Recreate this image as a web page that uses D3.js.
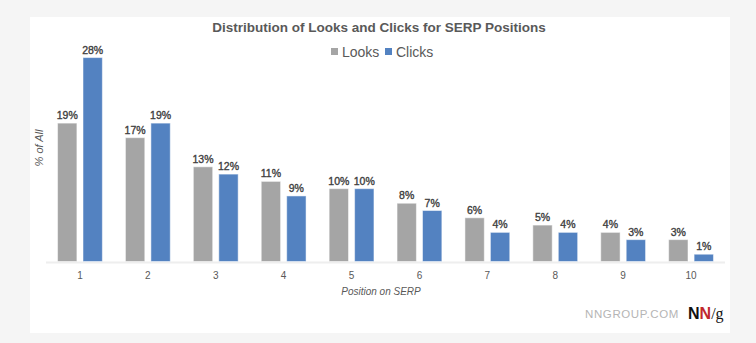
<!DOCTYPE html>
<html>
  <head>
    <meta charset="UTF-8">
    <title>Distribution of Looks and Clicks for SERP Positions</title>
    <style>
      body { margin: 0; background: #f5f5f5; }
      svg { display: block; font-family: "Helvetica Neue", Helvetica, "Liberation Sans", Arial, sans-serif; }
    </style>
  </head>
  <body>
    <svg></svg>

    <script src="https://d3js.org/d3.v7.min.js"></script>
    <script>

// SERP positions and the share of looks / clicks each one got (percent)
var positions = ["1", "2", "3", "4", "5", "6", "7", "8", "9", "10"];
var series = ["Looks", "Clicks"];
var looks  = [19, 17, 13, 11, 10, 8, 6, 5, 4, 3];
var clicks = [28, 19, 12, 9, 10, 7, 4, 4, 3, 1];
var colors = ["#a5a5a5", "#5382c1"];

var config = {
  "width": 756,
  "height": 343,
  "panel": {"x": 30, "y": 17, "w": 700, "h": 316},
  "plot": {"left": 46, "right": 725, "top": 43, "bottom": 261.5}
};

var svg = d3.select("svg")
  .attr("width", config.width)
  .attr("height", config.height);

// white card on the grey page
svg.append("rect")
  .attr("x", config.panel.x)
  .attr("y", config.panel.y)
  .attr("width", config.panel.w)
  .attr("height", config.panel.h)
  .attr("fill", "#ffffff");

var x = d3.scaleBand()
  .domain(positions)
  .range([config.plot.left, config.plot.right])
  .paddingInner(0.34)
  .paddingOuter(0.17);

var xInner = d3.scaleBand()
  .domain(series)
  .range([0, x.bandwidth()])
  .paddingInner(0.24);

var y = d3.scaleLinear()
  .domain([0, 30])
  .range([config.plot.bottom, config.plot.top]);

var color = d3.scaleOrdinal().domain(series).range(colors);

var rows = positions.map(function(p, i){
  return {"position": p, "values": [
    {"key": "Looks", "value": looks[i]},
    {"key": "Clicks", "value": clicks[i]}
  ]};
});

// baseline
svg.append("line")
  .attr("x1", config.plot.left)
  .attr("x2", config.plot.right)
  .attr("y1", y(0) + 1)
  .attr("y2", y(0) + 1)
  .attr("stroke", "#eeeeee")
  .attr("stroke-width", 2);

var group = svg.selectAll(".group")
  .data(rows)
  .enter().append("g")
    .attr("class", "group")
    .attr("transform", function(d){ return `translate(${x(d.position)},0)`; });

group.selectAll("rect")
  .data(function(d){ return d.values; })
  .enter().append("rect")
    .attr("x", function(d){ return xInner(d.key); })
    .attr("y", function(d){ return y(d.value); })
    .attr("width", xInner.bandwidth())
    .attr("height", function(d){ return y(0) - y(d.value); })
    .attr("fill", function(d){ return color(d.key); })
    .attr("stroke", "#ffffff")
    .attr("stroke-opacity", 0.5)
    .attr("stroke-width", 1);

// value labels above bars (medium weight: regular face plus a hairline stroke)
group.selectAll("text")
  .data(function(d){ return d.values; })
  .enter().append("text")
    .attr("x", function(d){ return xInner(d.key) + xInner.bandwidth()/2; })
    .attr("y", function(d){ return y(d.value) - 4; })
    .attr("text-anchor", "middle")
    .attr("font-size", 10.5)
    .attr("fill", "#404040")
    .attr("stroke", "#404040")
    .attr("stroke-width", 0.35)
    .text(function(d){ return d.value + "%"; });

// category axis
var xAxis = svg.append("g")
  .attr("transform", `translate(0,${y(0) + 2})`)
  .call(d3.axisBottom(x).tickSize(0).tickPadding(8));
xAxis.select(".domain").remove();
xAxis.selectAll("text")
  .attr("font-family", null)
  .attr("font-size", 10)
  .attr("fill", "#595959");

svg.append("text")
  .attr("x", 381)
  .attr("y", 295)
  .attr("text-anchor", "middle")
  .attr("font-size", 10)
  .attr("font-style", "italic")
  .attr("fill", "#595959")
  .text("Position on SERP");

svg.append("text")
  .attr("transform", "translate(43,148) rotate(-90)")
  .attr("text-anchor", "middle")
  .attr("font-size", 11)
  .attr("font-style", "italic")
  .attr("fill", "#595959")
  .text("% of All");

// title
svg.append("text")
  .attr("x", 379)
  .attr("y", 32)
  .attr("text-anchor", "middle")
  .attr("font-size", 13.5)
  .attr("font-weight", "bold")
  .attr("fill", "#595959")
  .text("Distribution of Looks and Clicks for SERP Positions");

// legend
var legendX = [331, 385];
var legend = svg.selectAll(".legend")
  .data(series)
  .enter().append("g")
    .attr("class", "legend")
    .attr("transform", function(d, i){ return `translate(${legendX[i]},48)`; });
legend.append("rect")
  .attr("width", 7)
  .attr("height", 7)
  .attr("fill", function(d){ return color(d); });
legend.append("text")
  .attr("x", 11)
  .attr("y", 9)
  .attr("font-size", 14)
  .attr("fill", "#595959")
  .text(function(d){ return d; });

// footer mark
svg.append("text")
  .attr("x", 679)
  .attr("y", 318)
  .attr("text-anchor", "end")
  .attr("font-size", 11.5)
  .attr("letter-spacing", 0.6)
  .attr("fill", "#b5b5b5")
  .text("NNGROUP.COM");

var logo = svg.append("text")
  .attr("x", 688)
  .attr("y", 319)
  .attr("font-size", 16);
logo.append("tspan")
  .attr("font-weight", "bold")
  .attr("font-family", "'Liberation Sans', Arial, sans-serif")
  .attr("fill", "#111111")
  .text("N");
logo.append("tspan")
  .attr("font-weight", "bold")
  .attr("font-family", "'Liberation Sans', Arial, sans-serif")
  .attr("fill", "#c0282d")
  .text("N");
logo.append("tspan")
  .attr("font-family", "'Liberation Serif', 'Times New Roman', serif")
  .attr("fill", "#111111")
  .text("/g");

    </script>
  </body>
</html>
